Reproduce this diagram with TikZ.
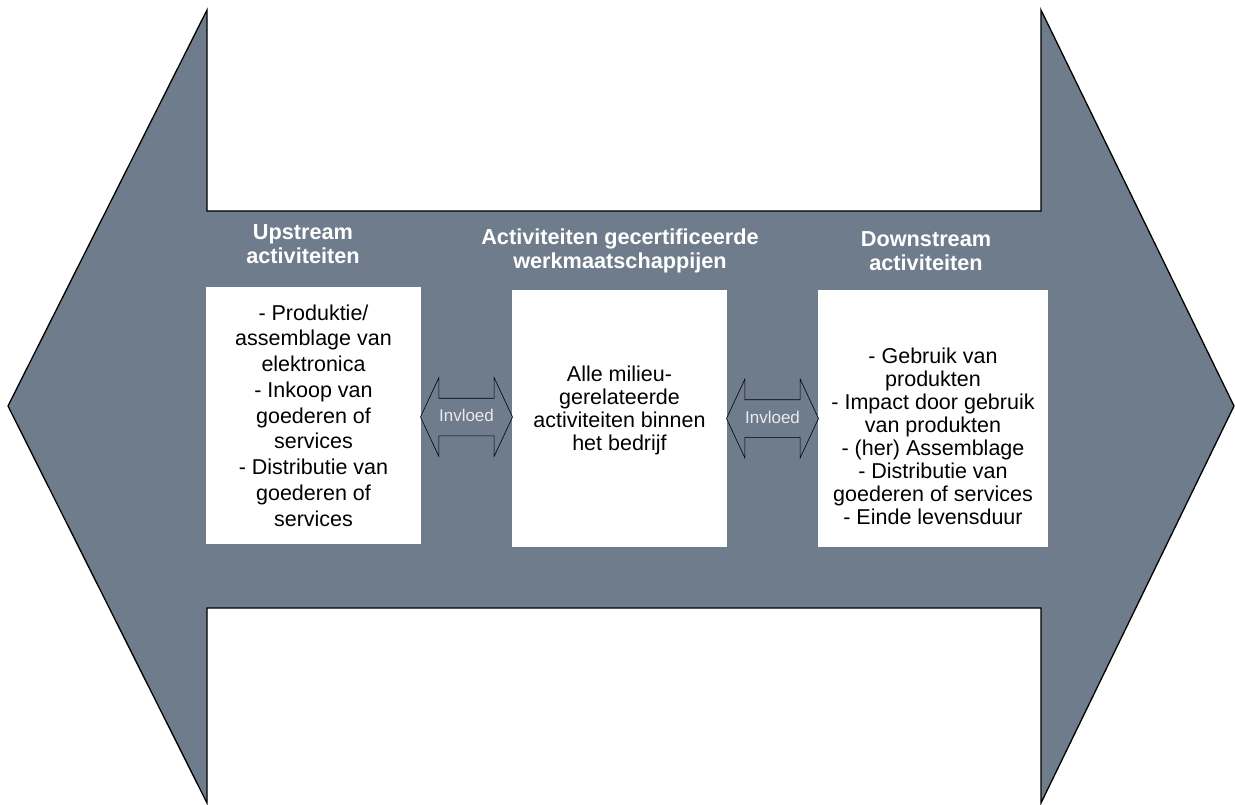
\documentclass[tikz,border=0pt]{standalone}
\usepackage{fontspec}
\setmainfont{Liberation Sans}
\usepackage{tikz}
\usetikzlibrary{positioning, calc, shapes.arrows}

\definecolor{leisteen}{RGB}{111,124,139}
\definecolor{lichtgrijs}{RGB}{232,234,237}

\begin{document}
\begin{tikzpicture}[x=1pt, y=-1pt]
        \tikzstyle{every node} = [font=\fontsize{21.5}{23}\selectfont]
        \tikzstyle{kop}  = [text=white, inner sep=0pt, align=center, font=\bfseries\fontsize{21.7}{24.5}\selectfont]
        \tikzstyle{vak}  = [fill=white, inner sep=0pt, minimum height=257pt]
        \tikzstyle{vaktekst} = [inner sep=0pt, align=center]
        \tikzstyle{invloed} = [double arrow, draw, fill=leisteen, line width=0.6pt, text=lichtgrijs,
            font=\fontsize{17}{19}\selectfont, minimum height=92pt, inner xsep=2pt, inner ysep=12pt,
            text height=11pt, text depth=2pt, double arrow head extend=20.5pt, double arrow tip angle=130]

        \def\ym{406}

        \useasboundingbox (0,0) rectangle (1235,805);

        % grote dubbele pijl
        \draw[fill=leisteen, line width=1.3pt] (8,\ym) -- (207,10) -- (207,211) -- (1041,211) -- (1041,10)
            -- (1234,\ym) -- (1041,803) -- (1041,608) -- (207,608) -- (207,803) -- cycle;

        % koppen
        \node[kop] (kopup)   at (303,244) {Upstream\\activiteiten};
        \node[kop] (kopkern) at (620,251) {Activiteiten gecertificeerde\\werkmaatschappijen};
        \node[kop] (kopdown) at (926,251) {Downstream\\activiteiten};

        % vakken
        \node[vak, minimum width=215pt] (upstream)   at (313.5,415.5) {};
        \node[vak, minimum width=215pt] (kern)       at (619.5,418.5) {};
        \node[vak, minimum width=230pt] (downstream) at (933,418.5) {};

        \node[vaktekst, font=\fontsize{21.5}{25.75}\selectfont] (uptekst) at (upstream)
            {- Produktie/\\assemblage van\\elektronica\\- Inkoop van\\goederen of\\services\\- Distributie van\\goederen of\\services};
        \node[vaktekst] (kerntekst) at ($(kern)+(0,-8)$)
            {Alle milieu-\\gerelateerde\\activiteiten binnen\\het bedrijf};
        \node[vaktekst] (downtekst) at ($(downstream)+(0,18)$)
            {- Gebruik van\\produkten\\- Impact door gebruik\\van produkten\\- (her) Assemblage\\- Distributie van\\goederen of services\\- Einde levensduur};

        % invloed
        \node[invloed] (invloedlinks)  at ($(upstream.east)!0.5!(kern.west)$) {Invloed};
        \node[invloed] (invloedrechts) at ($(kern.east)!0.5!(downstream.west)$) {Invloed};
    \end{tikzpicture}
\end{document}
